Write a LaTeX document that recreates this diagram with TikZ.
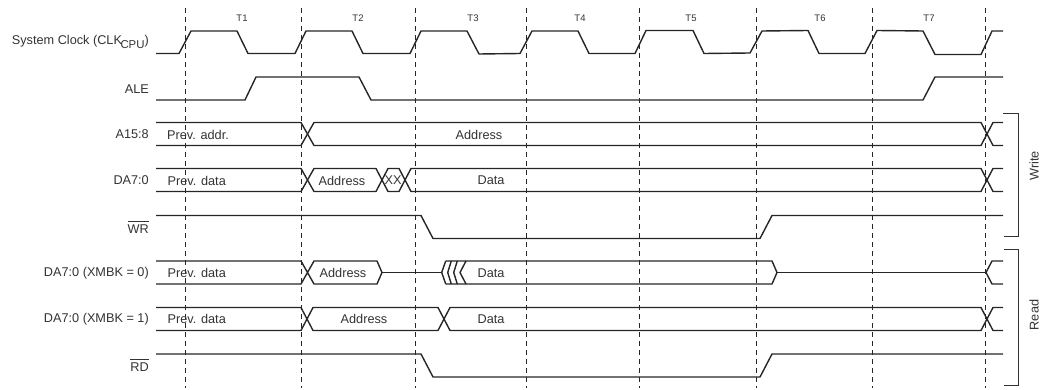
\documentclass[tikz,border=0pt]{standalone}
\usepackage{fontspec}
\setmainfont{Liberation Sans}

\tikzset{
  wave/.style={line width=1.4pt,color=black!85,line join=round},
  tick/.style={line width=0.8pt,color=black!85,dash pattern=on 5pt off 4pt},
  brace/.style={line width=0.8pt,color=black!80},
  siglabel/.style={anchor=east,inner sep=0pt,font=\fontsize{12.7}{15}\selectfont,color=black!80},
  buslabel/.style={inner sep=0pt,font=\fontsize{12.7}{15}\selectfont,color=black!80},
  cyclelabel/.style={inner sep=0pt,font=\fontsize{9.5}{11}\selectfont,color=black!80}
}

\begin{document}
\begin{tikzpicture}[x=1pt,y=-1pt]
      \useasboundingbox (0,0) rectangle (1049,390);
      % cycle boundaries and names
      \foreach \tx in {185,301,415.5,526,639.5,756.5,872,985} {
        \draw[tick] (\tx,8) -- (\tx,388);
      }
      \foreach \tname/\tx in {T1/242,T2/358,T3/473,T4/580,T5/691,T6/820,T7/929} {
        \node[cyclelabel] (\tname) at (\tx,18) {\tname};
      }
      % clock
      \draw[wave] (156,53.5) -- (179,53.5) -- (191,31) -- (237,31) -- (248,53.5) -- (295,53.5)
        -- (306,31) -- (352,31) -- (363,53.5) -- (410,53.5)
        -- (421,31) -- (467,31) -- (479,54) -- (520,53.5)
        -- (532,31) -- (578,31) -- (589,53.5) -- (635,53.5)
        -- (646,30.5) -- (693,30.5) -- (704,53.5) -- (750,53)
        -- (762,31) -- (808,30.5) -- (819,53.5) -- (865,53.5)
        -- (877,30.5) -- (923,31) -- (935,54.5) -- (981,54.5)
        -- (992,31) -- (1003,31);
      % ALE
      \draw[wave] (156,100) -- (245,100) -- (256,77) -- (359,77) -- (371,100) -- (923,100)
        -- (935,77) -- (1003,77);
      % A15:8
      \draw[wave] (156,122.5) -- (301,122.5) -- (314,145.5) -- (981,145.5) -- (993,122.5) -- (1003,122.5);
      \draw[wave] (156,145.5) -- (301,145.5) -- (314,122.5) -- (981,122.5) -- (993,145.5) -- (1003,145.5);
      % DA7:0, write
      \draw[wave] (156,168.5) -- (301,168.5) -- (314,191.5) -- (376,191.5) -- (388,168.5) -- (399,168.5)
        -- (411,191.5) -- (981,191.5) -- (993,168.5) -- (1003,168.5);
      \draw[wave] (156,191.5) -- (301,191.5) -- (314,168.5) -- (376,168.5) -- (388,191.5) -- (399,191.5)
        -- (411,168.5) -- (981,168.5) -- (993,191.5) -- (1003,191.5);
      % WR
      \draw[wave] (156,215.5) -- (421,215.5) -- (433,238.5) -- (760,238.5) -- (772,215.5) -- (1003,215.5);
      % DA7:0, read with XMBK = 0
      \draw[wave] (156,261) -- (301,261) -- (314,284) -- (377,284) -- (382,272.5) -- (377,261)
        -- (314,261) -- (301,284) -- (156,284);
      \draw[wave] (382,272.5) -- (441.7,272.5);
      \foreach \tip/\edge in {441.7/445.7,447.7/451.3,453.7/457.3,460/466} {
        \draw[wave] (\edge,261) -- (\tip,272.5) -- (\edge,284);
      }
      \draw[wave] (445.7,261) -- (772,261) -- (777,272.5) -- (772,284) -- (445.7,284);
      \draw[wave] (777,272.5) -- (986,272.5);
      \draw[wave] (1003,261) -- (992,261) -- (986,272.5) -- (992,284) -- (1003,284);
      % DA7:0, read with XMBK = 1
      \draw[wave] (156,307.5) -- (301,307.5) -- (313,330.5) -- (438,330.5) -- (450,307.5) -- (981,307.5)
        -- (993,330.5) -- (1003,330.5);
      \draw[wave] (156,330.5) -- (301,330.5) -- (313,307.5) -- (438,307.5) -- (450,330.5) -- (981,330.5)
        -- (993,307.5) -- (1003,307.5);
      % RD
      \draw[wave] (156,354) -- (421,354) -- (433,377) -- (760,377) -- (772,354) -- (1003,354);
      % signal names
      \node[siglabel] (clk) at (149,42) {System Clock (CLK\kern-1.5pt\raisebox{-3.5pt}{\fontsize{11.4}{13}\selectfont CPU})};
      \node[siglabel] (ale) at (149,89) {ALE};
      \node[siglabel] (addr) at (149,134.5) {A15:8};
      \node[siglabel] (dawr) at (149,180.5) {DA7:0};
      \node[siglabel] (wr) at (149,227) {$\overline{\mbox{\rule{0pt}{11.5pt}WR}}$};
      \node[siglabel] (dazero) at (149,273) {DA7:0 (XMBK = 0)};
      \node[siglabel] (daone) at (149,319.5) {DA7:0 (XMBK = 1)};
      \node[siglabel] (rd) at (149,365) {$\overline{\mbox{\rule{0pt}{11.5pt}RD}}$};
      % values on the buses
      \node[buslabel,anchor=west] (prevaddr) at (167,134.5) {Prev. addr.};
      \node[buslabel] (addrval) at (479,134.5) {Address};
      \node[buslabel,anchor=west] (prevdata) at (167.5,180.5) {Prev. data};
      \node[buslabel] (addrwr) at (342,180.5) {Address};
      \node[buslabel] (xx) at (393,180.5) {XX};
      \node[buslabel] (datawr) at (491,180.5) {Data};
      \node[buslabel,anchor=west] (prevzero) at (167.5,273) {Prev. data};
      \node[buslabel] (addrzero) at (343,273) {Address};
      \node[buslabel] (datazero) at (491,273) {Data};
      \node[buslabel,anchor=west] (prevone) at (167.5,319) {Prev. data};
      \node[buslabel] (addrone) at (364,319) {Address};
      \node[buslabel] (dataone) at (491,319) {Data};
      % write and read brackets
      \draw[brace] (1003,113) -- (1018,113) -- (1018,236) -- (1004,236);
      \draw[brace] (1004,249) -- (1018,249) -- (1018,385) -- (1004,385);
      \node[buslabel,rotate=90] (write) at (1034,166) {Write};
      \node[buslabel,rotate=90] (read) at (1034,315) {Read};
    \end{tikzpicture}
\end{document}
